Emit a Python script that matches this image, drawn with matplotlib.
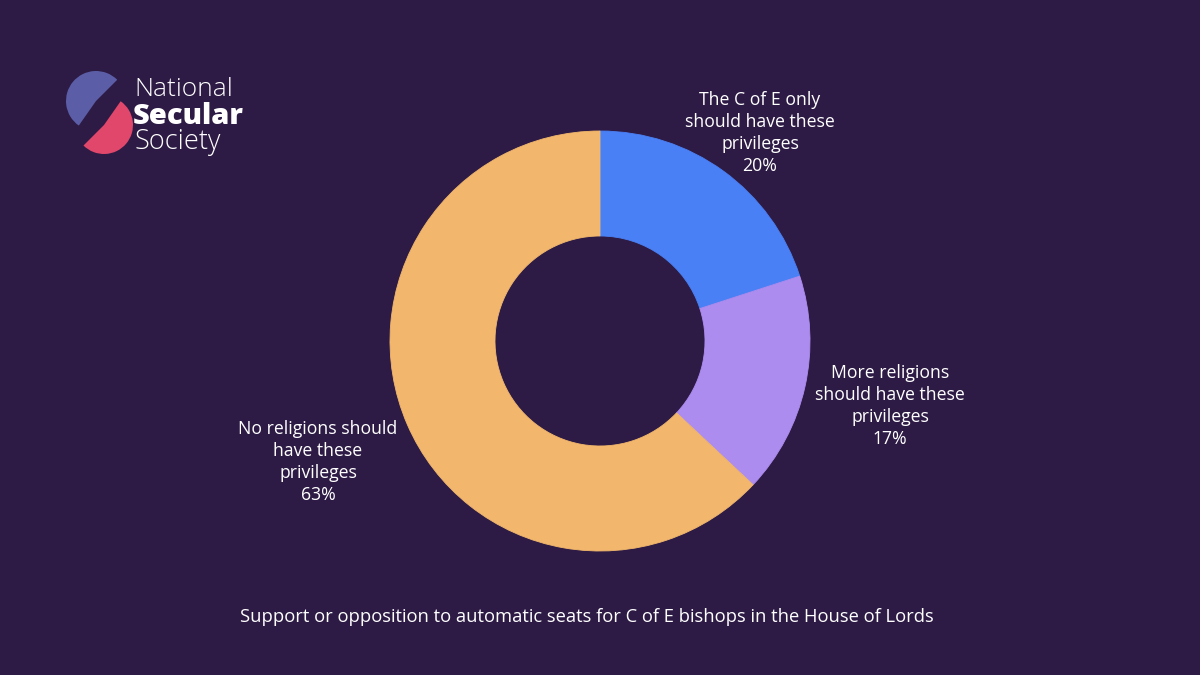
import matplotlib
matplotlib.use("Agg")
import matplotlib.pyplot as plt
from matplotlib.patches import Wedge

labels = ["The C of E only\nshould have these\nprivileges",
          "More religions\nshould have these\nprivileges",
          "No religions should\nhave these\nprivileges"]
values = [20, 17, 63]
colors = ["#4a80f5", "#ad8cf0", "#f2b76c"]
caption = "Support or opposition to automatic seats for C of E bishops in the House of Lords"

BG = "#2d1b45"
plt.rcParams['font.family'] = ['Open Sans', 'DejaVu Sans']

fig = plt.figure(figsize=(12, 6.75), dpi=100, facecolor=BG)
ax = fig.add_axes([0, 0, 1, 1])
ax.set_facecolor(BG)

H = 675
cx, cy = 600, H - 341
ax.pie(values, colors=colors, startangle=90, counterclock=False,
       center=(cx, cy), radius=210, frame=True,
       wedgeprops=dict(width=105, linewidth=0.6, edgecolor=None))
for w, c in zip(ax.patches, colors):
    w.set_edgecolor(c)
ax.set_xlim(0, 1200)
ax.set_ylim(0, 675)
ax.set_aspect('equal')
ax.axis('off')

label_pos = [(760, 133), (890, 406), (318, 462)]
for lab, v, (x, y) in zip(labels, values, label_pos):
    ax.text(x, H - y, f"{lab}\n{v}%", ha='center', va='center',
            color='white', fontsize=12.7, linespacing=1.3)

ax.text(587, H - 617, caption, ha='center', va='center', color='white', fontsize=13.2)

# Logo
ax.add_patch(Wedge((96, H - 101), 30, 45, 235, facecolor="#5b5ea6", linewidth=0))
ax.add_patch(Wedge((104, H - 125), 29, 225, 415, facecolor="#e0476b", linewidth=0))
ax.text(134, H - 90, "National", color='white', fontsize=19, va='center', ha='left', fontweight='light')
ax.text(133, H - 116, "Secular", color='white', fontsize=21, va='center', ha='left', fontweight='heavy')
ax.text(134, H - 142, "Society", color='white', fontsize=19.5, va='center', ha='left', fontweight='light')

fig.savefig("out.png", dpi=100, facecolor=BG)
